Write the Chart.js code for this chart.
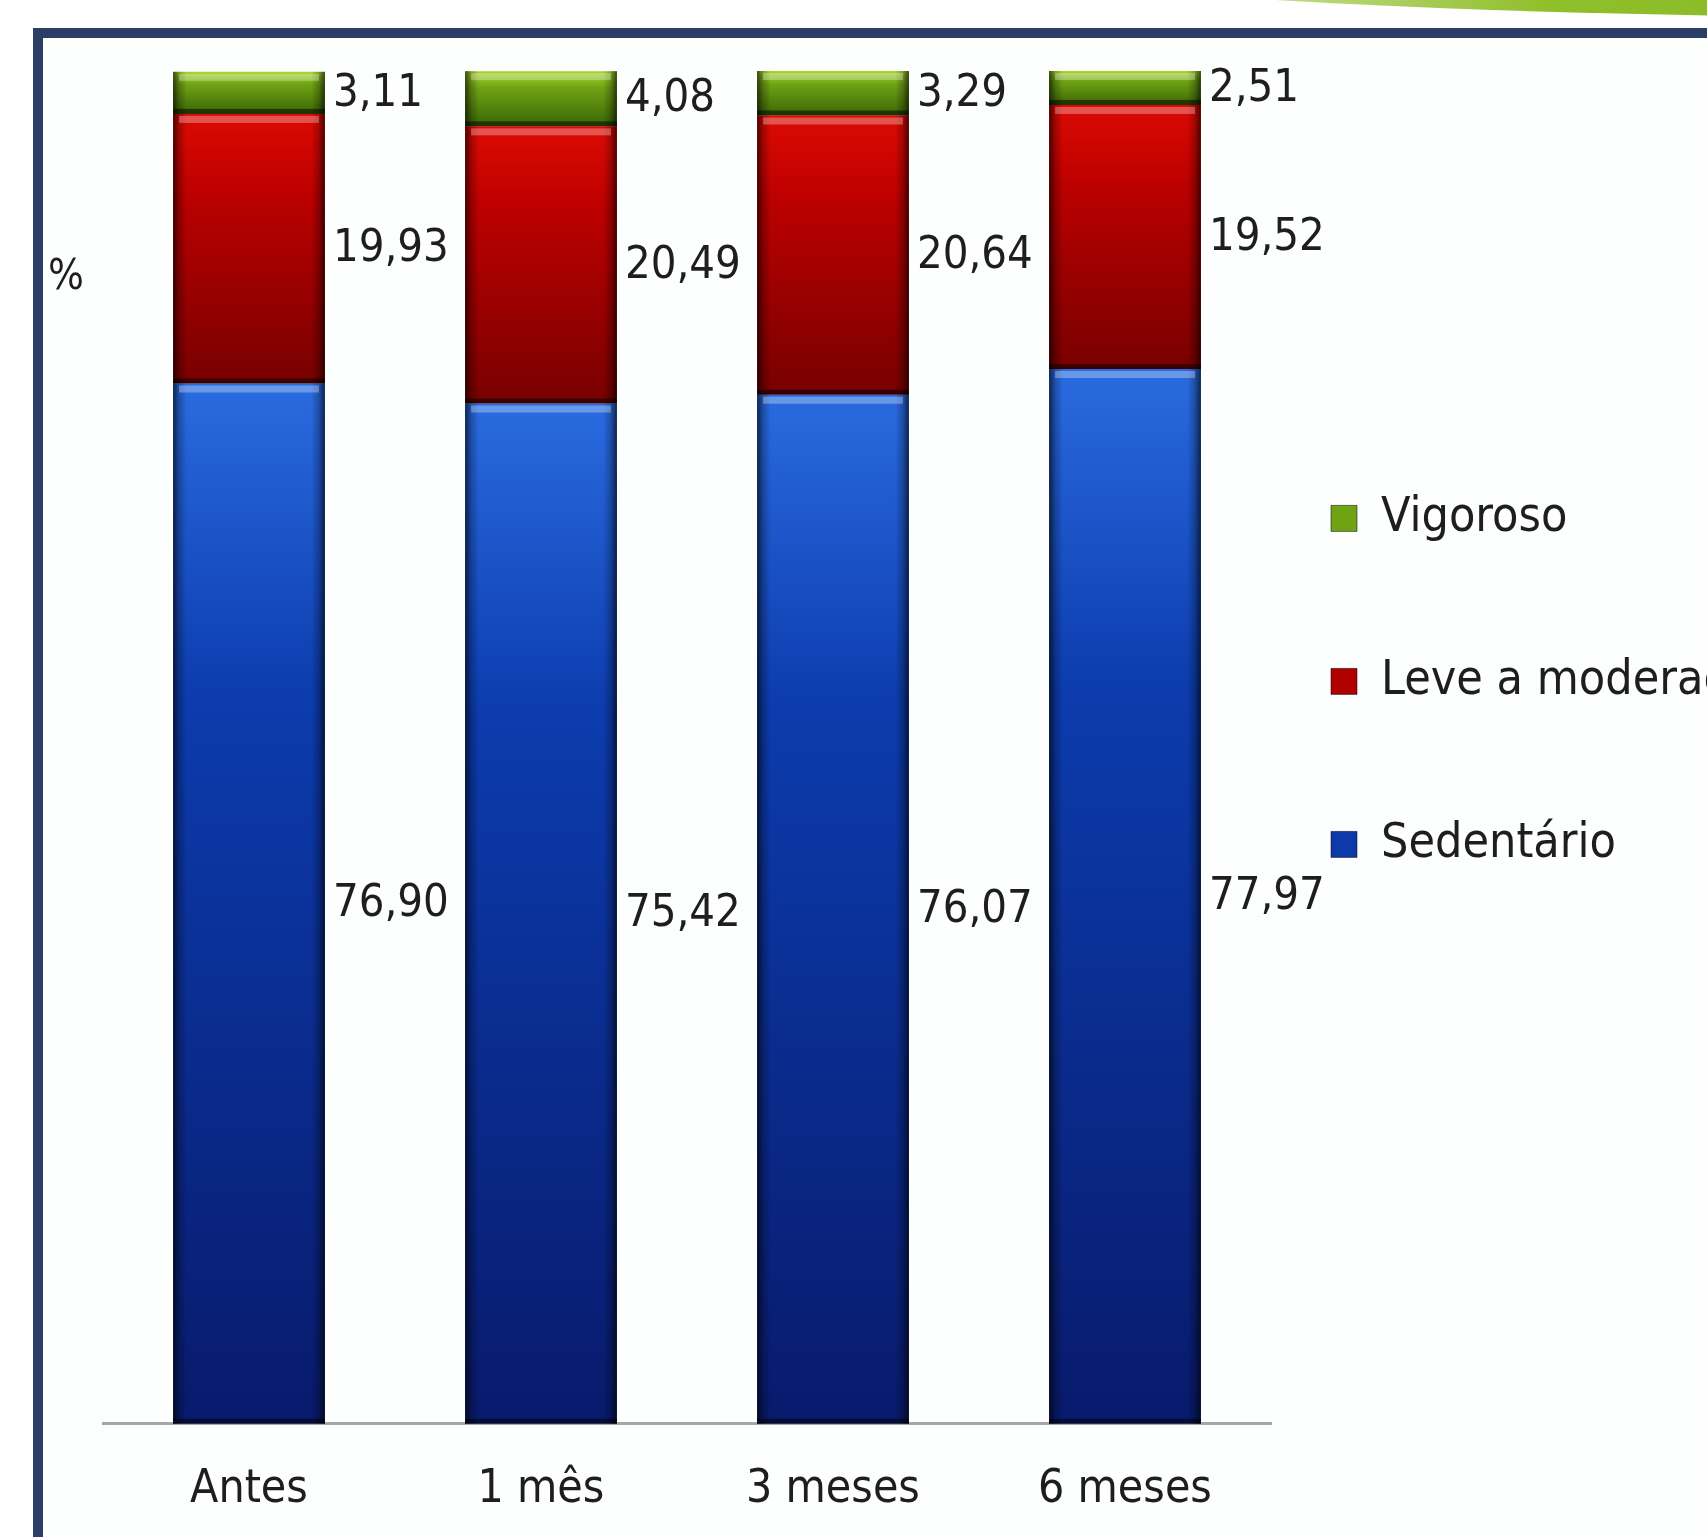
<!DOCTYPE html>
<html lang="pt">
<head>
<meta charset="utf-8">
<title>Nível de atividade física</title>
<script src="https://cdn.jsdelivr.net/npm/chart.js@4.4.1/dist/chart.umd.min.js"></script>
<style>
  html, body { margin: 0; padding: 0; width: 1707px; height: 1537px; overflow: hidden; background: #fff; }
  .faixa {
    position: absolute; left: 1000px; top: -40px; width: 1000px; height: 58px;
    border-radius: 0 0 0 100%;
    background: linear-gradient(to right, rgba(150,195,45,0) 0%, rgba(150,195,45,.55) 25%, #8fbf2a 55%, #86b824 100%);
  }
  .moldura {
    position: absolute; left: 33px; top: 28px; width: 1800px; height: 1600px;
    border-left: 10px solid #2b3e66; border-top: 10px solid #2b3e66; background: #fdfefe;
  }
  .grafico { position: absolute; left: 43px; top: 38px; width: 1664px; height: 1519px; }
</style>
</head>
<body>
<div class="faixa"></div>
<div class="moldura"></div>
<div class="grafico"><canvas id="atividadeChart"></canvas></div>
<script>
const categorias = ['Antes', '1 mês', '3 meses', '6 meses'];
const sedentario = [76.90, 75.42, 76.07, 77.97];
const leveModerado = [19.93, 20.49, 20.64, 19.52];
const vigoroso = [3.11, 4.08, 3.29, 2.51];

const fonte = "'DejaVu Sans Condensed', Roboto, sans-serif";

// cada segmento ganha o seu proprio degrade, de cima (claro) para baixo (escuro)
function degrade(cores) {
    return function (ctx) {
        const chart = ctx.chart;
        if (!chart.chartArea || ctx.dataIndex === undefined) return cores[1];
        const y = chart.scales.y;
        let base = 0;
        for (let d = 0; d < ctx.datasetIndex; d++) {
            base += chart.data.datasets[d].data[ctx.dataIndex];
        }
        const topo = base + chart.data.datasets[ctx.datasetIndex].data[ctx.dataIndex];
        const g = chart.ctx.createLinearGradient(0, y.getPixelForValue(topo), 0, y.getPixelForValue(base));
        g.addColorStop(0, cores[0]);
        g.addColorStop(0.3, cores[1]);
        g.addColorStop(1, cores[2]);
        return g;
    };
}

const relevo = {
    id: 'relevo',
    afterDatasetsDraw(chart) {
        const c = chart.ctx;
        chart.data.datasets.forEach((ds, i) => {
            chart.getDatasetMeta(i).data.forEach(bar => {
                const p = bar.getProps(['x', 'y', 'base', 'width'], true);
                const esq = p.x - p.width / 2;
                const h = p.base - p.y;
                const lados = c.createLinearGradient(esq, 0, esq + p.width, 0);
                lados.addColorStop(0, 'rgba(0,0,0,0.65)');
                lados.addColorStop(0.04, 'rgba(0,0,0,0.25)');
                lados.addColorStop(0.09, 'rgba(0,0,0,0)');
                lados.addColorStop(0.91, 'rgba(0,0,0,0)');
                lados.addColorStop(0.96, 'rgba(0,0,0,0.25)');
                lados.addColorStop(1, 'rgba(0,0,0,0.65)');
                c.save();
                c.fillStyle = lados;
                c.fillRect(esq, p.y, p.width, h);
                c.fillStyle = 'rgba(255,255,255,0.3)';
                c.fillRect(esq + 6, p.y + 2, p.width - 12, 7);
                c.fillStyle = 'rgba(0,0,0,0.5)';
                c.fillRect(esq, p.base - 5, p.width, 5);
                c.restore();
            });
        });
    }
};

const rotulos = {
    id: 'rotulos',
    afterDatasetsDraw(chart) {
        const c = chart.ctx;
        c.save();
        c.fillStyle = '#1e1e1e';
        c.textBaseline = 'middle';
        c.textAlign = 'left';
        c.font = '45px ' + fonte;
        chart.data.datasets.forEach((ds, i) => {
            chart.getDatasetMeta(i).data.forEach((bar, j) => {
                const p = bar.getProps(['x', 'y', 'base', 'width'], true);
                const txt = ds.data[j].toFixed(2).replace('.', ',');
                c.fillText(txt, p.x + p.width / 2 + 8, (p.y + p.base) / 2 + 1);
            });
        });
        c.textAlign = 'center';
        c.font = '42px ' + fonte;
        c.fillText('%', chart.chartArea.left - 37, chart.chartArea.top + 207);
        c.restore();
    }
};

const coresLegenda = ['#0d3aa8', '#b00000', '#6fa314'];

new Chart(document.getElementById('atividadeChart'), {
    type: 'bar',
    data: {
        labels: categorias,
        datasets: [
            { label: 'Sedentário', data: sedentario, backgroundColor: degrade(['#2a6be0', '#0c3cae', '#081a6c']) },
            { label: 'Leve a moderado', data: leveModerado, backgroundColor: degrade(['#dc0a02', '#bc0000', '#780000']) },
            { label: 'Vigoroso', data: vigoroso, backgroundColor: degrade(['#a8d62c', '#6fa314', '#3a6606']) }
        ]
    },
    options: {
        responsive: true,
        maintainAspectRatio: false,
        animation: false,
        layout: { padding: { left: 60, top: 33, right: 0, bottom: 0 } },
        datasets: {
            bar: { categoryPercentage: 1, barPercentage: 0.52, borderWidth: 0 }
        },
        scales: {
            x: {
                stacked: true,
                grid: { display: false, drawTicks: false },
                border: { display: true, color: '#a6a6a6', width: 3 },
                ticks: {
                    color: '#1e1e1e',
                    padding: 39,
                    font: { family: fonte, size: 46 }
                }
            },
            y: {
                stacked: true,
                display: false,
                min: 0,
                max: 100
            }
        },
        plugins: {
            tooltip: { enabled: false },
            legend: {
                position: 'right',
                align: 'start',
                reverse: true,
                maxWidth: 436,
                title: { display: true, text: '', padding: { top: 349, bottom: 0 } },
                labels: {
                    color: '#1e1e1e',
                    boxWidth: 26,
                    boxHeight: 26,
                    padding: 60,
                    font: { family: fonte, size: 48, lineHeight: 2.146 },
                    generateLabels(chart) {
                        const itens = Chart.defaults.plugins.legend.labels.generateLabels(chart);
                        return itens.map(it => Object.assign(it, {
                            text: [it.text],
                            fillStyle: coresLegenda[it.datasetIndex],
                            strokeStyle: 'rgba(0,0,0,0.5)',
                            lineWidth: 1
                        }));
                    }
                }
            }
        }
    },
    plugins: [relevo, rotulos]
});
</script>
</body>
</html>
